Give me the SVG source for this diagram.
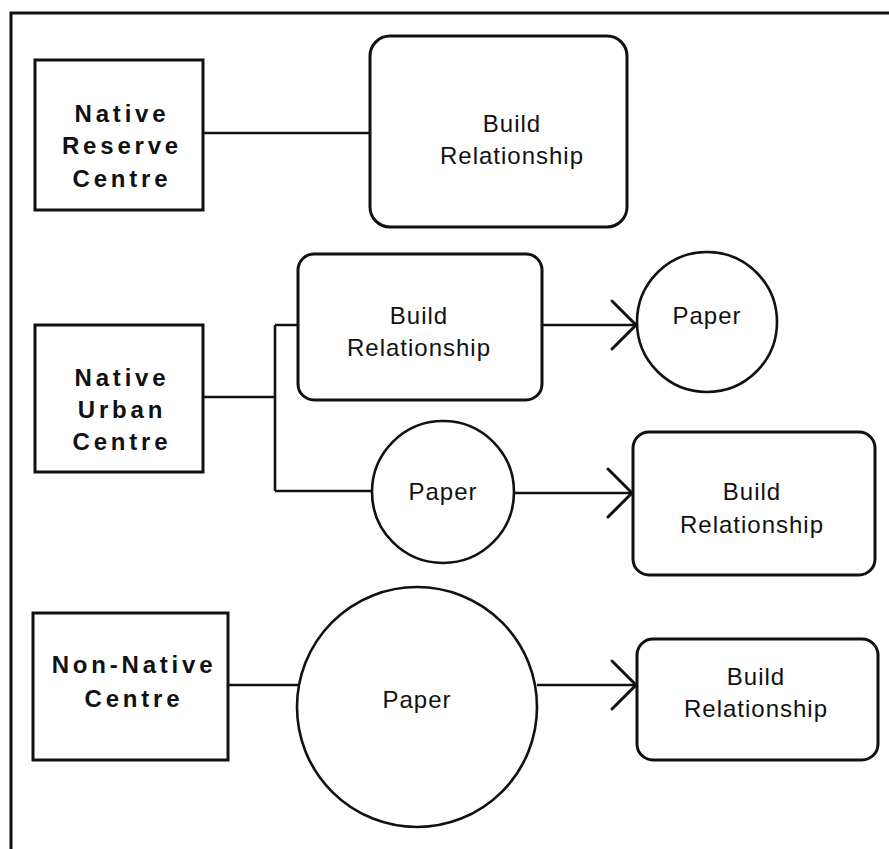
<svg xmlns="http://www.w3.org/2000/svg" width="889" height="849" viewBox="0 0 889 849">
<style>
.frame{fill:none;stroke:#111;stroke-width:3}
.box{fill:#fff;stroke:#111;stroke-width:3}
.node{fill:#fff;stroke:#111;stroke-width:2.6}
.conn{fill:none;stroke:#111;stroke-width:2.6}
.bold{font-family:"Liberation Sans",Arial,Helvetica,sans-serif;font-weight:bold;font-size:24px;letter-spacing:3.8px;fill:#111;text-anchor:middle}
.reg{font-family:"Liberation Sans",Arial,Helvetica,sans-serif;font-size:24px;letter-spacing:1px;fill:#111;text-anchor:middle}
</style>
<defs>
<marker id="arrow" markerUnits="userSpaceOnUse" viewBox="-28 -28 32 56" markerWidth="32" markerHeight="56" refX="0" refY="0" orient="auto">
<path d="M -24 -24 L 0 0 L -24 24" fill="none" stroke="#111" stroke-width="3" stroke-linecap="round"/>
</marker>
</defs>
<rect width="889" height="849" fill="#fff"/>
<path class="frame" d="M 889 13 L 11 13 L 11 849"/>

<g id="connectors">
<line class="conn" x1="203" y1="133" x2="370" y2="133"/>
<path class="conn" d="M 203 397 L 275 397 M 275 325 L 275 491 M 275 325 L 298 325 M 275 491 L 372 491"/>
<line class="conn" x1="542" y1="325" x2="636" y2="325" marker-end="url(#arrow)"/>
<line class="conn" x1="514" y1="493" x2="632" y2="493" marker-end="url(#arrow)"/>
<line class="conn" x1="228" y1="685" x2="298" y2="685"/>
<line class="conn" x1="537" y1="685" x2="636" y2="685" marker-end="url(#arrow)"/>
</g>

<g id="native-reserve-centre">
<rect class="box" x="35" y="60" width="168" height="150"/>
<text class="bold" x="122" y="122">Native</text>
<text class="bold" x="122" y="154">Reserve</text>
<text class="bold" x="122" y="187">Centre</text>
</g>

<g id="build-relationship-1">
<rect class="box" x="370" y="36" width="257" height="191" rx="20" ry="20"/>
<text class="reg" x="512" y="132">Build</text>
<text class="reg" x="512" y="164">Relationship</text>
</g>

<g id="native-urban-centre">
<rect class="box" x="35" y="325" width="168" height="147"/>
<text class="bold" x="122" y="386">Native</text>
<text class="bold" x="122" y="418">Urban</text>
<text class="bold" x="122" y="450">Centre</text>
</g>

<g id="build-relationship-2">
<rect class="box" x="298" y="254" width="244" height="146" rx="16" ry="16"/>
<text class="reg" x="419" y="324">Build</text>
<text class="reg" x="419" y="356">Relationship</text>
</g>

<g id="paper-1">
<circle class="node" cx="707" cy="322" r="70"/>
<text class="reg" x="707" y="324">Paper</text>
</g>

<g id="paper-2">
<circle class="node" cx="443" cy="492" r="71"/>
<text class="reg" x="443" y="500">Paper</text>
</g>

<g id="build-relationship-3">
<rect class="box" x="633" y="432" width="242" height="143" rx="16" ry="16"/>
<text class="reg" x="752" y="500">Build</text>
<text class="reg" x="752" y="533">Relationship</text>
</g>

<g id="non-native-centre">
<rect class="box" x="33" y="613" width="195" height="147"/>
<text class="bold" x="134" y="673">Non-Native</text>
<text class="bold" x="134" y="707">Centre</text>
</g>

<g id="paper-3">
<circle class="node" cx="417" cy="707" r="120"/>
<text class="reg" x="417" y="708">Paper</text>
</g>

<g id="build-relationship-4">
<rect class="box" x="637" y="639" width="241" height="121" rx="16" ry="16"/>
<text class="reg" x="756" y="685">Build</text>
<text class="reg" x="756" y="717">Relationship</text>
</g>
</svg>
